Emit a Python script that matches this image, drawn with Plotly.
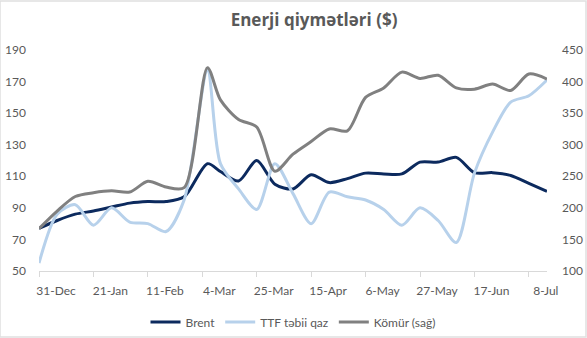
import plotly.graph_objects as go
import pandas as pd

dates = list(pd.date_range("2021-12-31", periods=29, freq="7D"))
dates[9] = pd.Timestamp("2022-03-06")

brent = [77, 82, 86, 88, 90.5, 93, 94, 94, 97, 118, 113, 107, 120, 105, 102,
         111, 106, 108.5, 112, 111.5, 111.5, 119, 119, 122, 112.3, 112.3, 110.5, 105.5, 100.5]
ttf = [55, 86, 92, 79, 90, 81, 80, 75, 95, 177, 118, 102, 89, 118, 99,
       80, 100, 97, 95, 89, 79, 90, 82, 68, 112, 138, 157, 161, 171]
komur = [167, 195, 218, 224, 227, 225, 242, 233, 232, 422, 371, 340, 328, 258, 285,
         305, 325, 322, 375, 390, 415, 405, 410, 390, 388, 396, 386, 412, 404]

tick_dates = pd.date_range("2021-12-31", periods=10, freq="21D")
tick_text = [d.strftime("%-d-%b") for d in tick_dates]
left_ticks = [50, 70, 90, 110, 130, 150, 170, 190]
right_ticks = [100, 150, 200, 250, 300, 350, 400, 450]

font_color = "#595959"
fnt = "Lato"

fig = go.Figure()
fig.add_trace(go.Scatter(x=dates, y=brent, name="Brent", mode="lines",
                         line=dict(color="#0c2a5e", width=3, shape="spline", smoothing=0.8)))
fig.add_trace(go.Scatter(x=dates, y=ttf, name="TTF təbii qaz", mode="lines",
                         line=dict(color="#b7d1eb", width=3, shape="spline", smoothing=0.8)))
fig.add_trace(go.Scatter(x=dates, y=komur, name="Kömür (sağ)", mode="lines", yaxis="y2",
                         line=dict(color="#808080", width=3, shape="spline", smoothing=0.8)))

fig.update_layout(
    width=587, height=338,
    margin=dict(l=39, r=40, t=50, b=67, autoexpand=False),
    paper_bgcolor="white", plot_bgcolor="white",
    font=dict(family=fnt, size=12, color=font_color),
    title=dict(text="<b>Enerji qiymətləri ($)</b>", x=0.535, xanchor="center", y=0.94, yanchor="middle",
               font=dict(family="Open Sans", size=17, color=font_color)),
    xaxis=dict(
        range=["2021-12-31", "2022-07-15"],
        tickmode="array", tickvals=tick_dates, ticktext=tick_text,
        showgrid=False, showline=True, linecolor="#d9d9d9", linewidth=1,
        ticks="outside", ticklen=5, tickcolor="#d9d9d9",
        ticklabelshift=17, ticklabelstandoff=4,
        tickfont=dict(size=12, color=font_color), zeroline=False,
    ),
    yaxis=dict(
        range=[50, 190], tickmode="array", tickvals=left_ticks,
        showgrid=False, zeroline=False, showline=False,
        ticklabelstandoff=12, tickfont=dict(size=12, color=font_color),
    ),
    yaxis2=dict(
        range=[100, 450], tickmode="array", tickvals=right_ticks,
        overlaying="y", side="right",
        showgrid=False, zeroline=False, showline=False,
        ticklabelstandoff=14, tickfont=dict(size=12, color=font_color),
    ),
    legend=dict(orientation="h", x=0.5, xanchor="center", yref="container", y=0.047, yanchor="middle",
                font=dict(size=12, color=font_color), itemwidth=30,
                bgcolor="rgba(0,0,0,0)"),
    showlegend=True,
)

fig.add_shape(type="rect", xref="paper", yref="paper", x0=-39/508, x1=1 + 39/508,
              y0=-66/221, y1=1 + 49/221,
              line=dict(color="#e0e0e0", width=1.5), fillcolor="rgba(0,0,0,0)", layer="below")

fig.write_html("out.html")
